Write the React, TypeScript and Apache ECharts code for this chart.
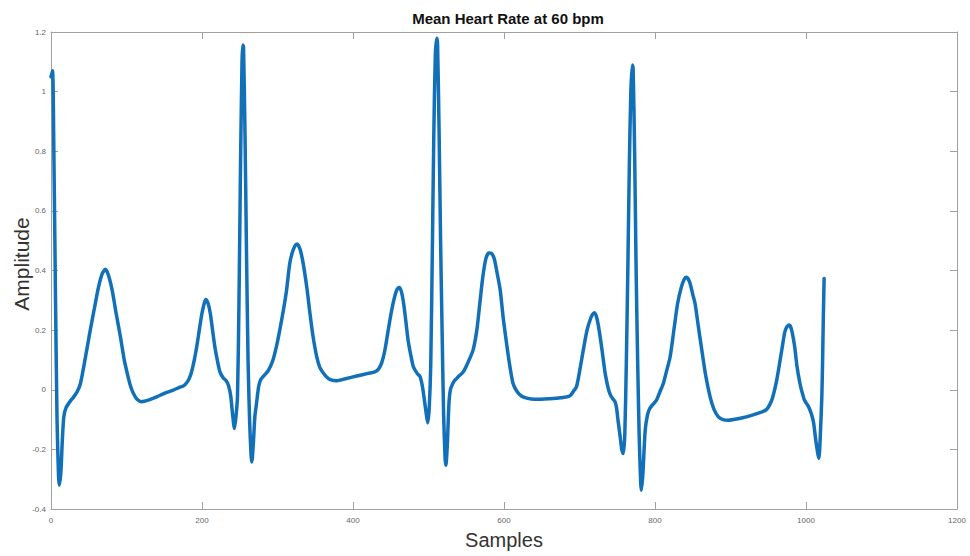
import React, { useEffect, useRef } from "react";
import * as echarts from "echarts";

const title = "Mean Heart Rate at 60 bpm";
const xName = "Samples";
const yName = "Amplitude";

const samples: number[] = [
  0, 2, 4, 6, 8, 10, 11, 13, 15, 17, 20, 25, 30, 35, 39, 45, 52, 58, 63, 68, 72, 76, 81, 86, 92, 97, 101, 105, 109, 114, 120, 130, 140, 150, 162, 170, 176, 181, 185, 189, 193, 197, 200, 203, 205, 208, 211, 214, 217, 221, 224, 228, 232, 235, 238, 240, 243, 245, 247, 249, 251, 253, 254, 255, 257, 259, 261, 263, 265, 266, 268, 270, 272, 275, 278, 283, 288, 294, 299, 303, 308, 312, 316, 319, 323, 326, 330, 334, 339, 343, 347, 352, 356, 361, 365, 370, 378, 390, 405, 420, 429, 434, 438, 442, 446, 450, 454, 458, 461, 464, 467, 470, 473, 477, 480, 485, 489, 492, 494, 497, 499, 501, 503, 505, 507, 509, 511, 512, 514, 516, 518, 520, 522, 523, 525, 527, 529, 532, 535, 540, 546, 552, 559, 564, 568, 572, 576, 580, 583, 587, 591, 595, 599, 604, 608, 612, 617, 623, 630, 641, 660, 675, 687, 692, 696, 700, 705, 710, 714, 717, 720, 723, 726, 730, 734, 738, 741, 744, 747, 749, 751, 754, 756, 758, 760, 762, 764, 766, 768, 770, 771, 773, 775, 777, 779, 781, 782, 784, 787, 790, 793, 797, 802, 806, 811, 815, 820, 825, 830, 835, 839, 842, 846, 850, 853, 857, 862, 867, 873, 878, 884, 890, 897, 910, 921, 935, 947, 952, 956, 961, 965, 969, 972, 975, 978, 981, 985, 988, 992, 995, 998, 1003, 1007, 1010, 1013, 1017, 1019, 1021, 1022, 1023, 1024,
];

const amplitude: number[] = [
  1.05, 1.07, 0.75, 0.3, -0.1, -0.29, -0.32, -0.28, -0.17, -0.09, -0.06, -0.04, -0.024, -0.005, 0.021, 0.1, 0.2, 0.28, 0.345, 0.39, 0.404, 0.385, 0.334, 0.26, 0.177, 0.1, 0.055, 0.015, -0.012, -0.032, -0.04, -0.034, -0.024, -0.012, -0.001, 0.008, 0.014, 0.028, 0.05, 0.09, 0.144, 0.21, 0.257, 0.29, 0.303, 0.29, 0.256, 0.2, 0.144, 0.09, 0.058, 0.04, 0.03, 0.015, -0.02, -0.07, -0.13, -0.09, -0.024, 0.3, 0.75, 1.1, 1.156, 1.15, 0.85, 0.45, 0.1, -0.1, -0.22, -0.242, -0.18, -0.09, -0.05, 0.01, 0.035, 0.05, 0.065, 0.1, 0.15, 0.2, 0.27, 0.334, 0.42, 0.455, 0.482, 0.489, 0.47, 0.424, 0.34, 0.256, 0.18, 0.11, 0.075, 0.055, 0.043, 0.034, 0.03, 0.037, 0.046, 0.055, 0.06, 0.07, 0.09, 0.13, 0.19, 0.25, 0.3, 0.335, 0.343, 0.33, 0.29, 0.23, 0.166, 0.11, 0.077, 0.055, 0.043, 0.01, -0.024, -0.08, -0.111, -0.06, 0.088, 0.45, 0.85, 1.12, 1.179, 1.16, 0.871, 0.5, 0.2, -0.08, -0.23, -0.253, -0.18, -0.05, 0.0, 0.02, 0.032, 0.045, 0.06, 0.09, 0.133, 0.2, 0.29, 0.38, 0.44, 0.459, 0.458, 0.44, 0.39, 0.334, 0.24, 0.144, 0.075, 0.021, -0.005, -0.021, -0.028, -0.032, -0.03, -0.027, -0.021, -0.005, 0.01, 0.06, 0.133, 0.2, 0.234, 0.252, 0.258, 0.24, 0.2, 0.13, 0.055, 0.005, -0.018, -0.03, -0.04, -0.06, -0.102, -0.16, -0.2, -0.214, -0.15, 0.088, 0.4, 0.75, 1.0, 1.089, 1.08, 0.8, 0.4, 0.1, -0.15, -0.31, -0.337, -0.28, -0.136, -0.085, -0.063, -0.05, -0.035, -0.01, 0.021, 0.06, 0.11, 0.2, 0.29, 0.345, 0.372, 0.377, 0.36, 0.32, 0.29, 0.22, 0.133, 0.05, -0.024, -0.065, -0.091, -0.1, -0.102, -0.097, -0.091, -0.08, -0.068, -0.05, -0.024, 0.03, 0.088, 0.15, 0.194, 0.212, 0.217, 0.2, 0.144, 0.08, 0.021, -0.01, -0.035, -0.055, -0.08, -0.11, -0.17, -0.23, -0.15, -0.02, 0.1, 0.25, 0.373,
];

const xMin = 0;
const xMax = 1200;
const xStep = 200;
const yMin = -0.4;
const yMax = 1.2;
const yStep = 0.2;

const FONT = "Liberation Sans";
const AXIS_COLOR = "#a0a0a0";
const LABEL_COLOR = "#666";

export default function App() {
  const ref = useRef<HTMLDivElement>(null);

  useEffect(() => {
    if (!ref.current) return;
    const chart = echarts.init(ref.current, undefined, { renderer: "svg" });
    const points = samples.map((s, i) => [s, amplitude[i]]);
    const fmtY = (v: number) => String(Math.round(v * 10) / 10);
    const fmtX = (v: number) => String(Math.round(v));

    const baseX = {
      type: "value" as const,
      min: xMin,
      max: xMax,
      interval: xStep,
      splitLine: { show: false },
      axisLine: { show: true, onZero: false, lineStyle: { color: AXIS_COLOR, width: 1 } },
      axisTick: { show: true, inside: true, length: 7, lineStyle: { color: AXIS_COLOR } },
    };
    const baseY = {
      type: "value" as const,
      min: yMin,
      max: yMax,
      interval: yStep,
      splitLine: { show: false },
      axisLine: { show: true, onZero: false, lineStyle: { color: AXIS_COLOR, width: 1 } },
      axisTick: { show: true, inside: true, length: 7, lineStyle: { color: AXIS_COLOR } },
    };

    chart.setOption({
      animation: false,
      backgroundColor: "#ffffff",
      title: {
        text: title,
        left: 503,
        textAlign: "center",
        top: 6,
        textStyle: { fontFamily: FONT, fontSize: 15, fontWeight: "bold", color: "#111" },
      },
      graphic: [
        {
          type: "text",
          x: 21,
          y: 264,
          rotation: Math.PI / 2,
          style: {
            text: yName,
            align: "center",
            verticalAlign: "middle",
            fontFamily: FONT,
            fontSize: 21,
            fill: "#333",
          },
        },
      ],
      grid: { left: 51, right: 13, top: 32, bottom: 47, containLabel: false, outerBoundsMode: "none" },
      xAxis: [
        {
          ...baseX,
          position: "bottom",
          name: xName,
          nameLocation: "middle",
          nameGap: 21,
          nameTextStyle: { fontFamily: FONT, fontSize: 20, color: "#333" },
          axisLabel: { show: true, margin: 7, fontFamily: FONT, fontSize: 8, color: LABEL_COLOR, formatter: fmtX, showMaxLabel: true, showMinLabel: true },
        },
        {
          ...baseX,
          position: "top",
          axisLabel: { show: false },
        },
      ],
      yAxis: [
        {
          ...baseY,
          position: "left",
          axisLabel: { show: true, margin: 5, fontFamily: FONT, fontSize: 8, color: LABEL_COLOR, formatter: fmtY, showMaxLabel: true, showMinLabel: true },
        },
        {
          ...baseY,
          position: "right",
          axisLabel: { show: false },
        },
      ],
      series: [
        {
          type: "line",
          xAxisIndex: 0,
          yAxisIndex: 0,
          data: points,
          showSymbol: false,
          symbol: "none",
          smooth: 0.25,
          lineStyle: { color: "#1170b8", width: 3.5, join: "round", cap: "round" },
        },
      ],
    });
    return () => chart.dispose();
  }, []);

  return (
    <div
      ref={ref}
      style={{ position: "fixed", left: 0, top: 0, width: 970, height: 556, background: "#fff" }}
    />
  );
}
